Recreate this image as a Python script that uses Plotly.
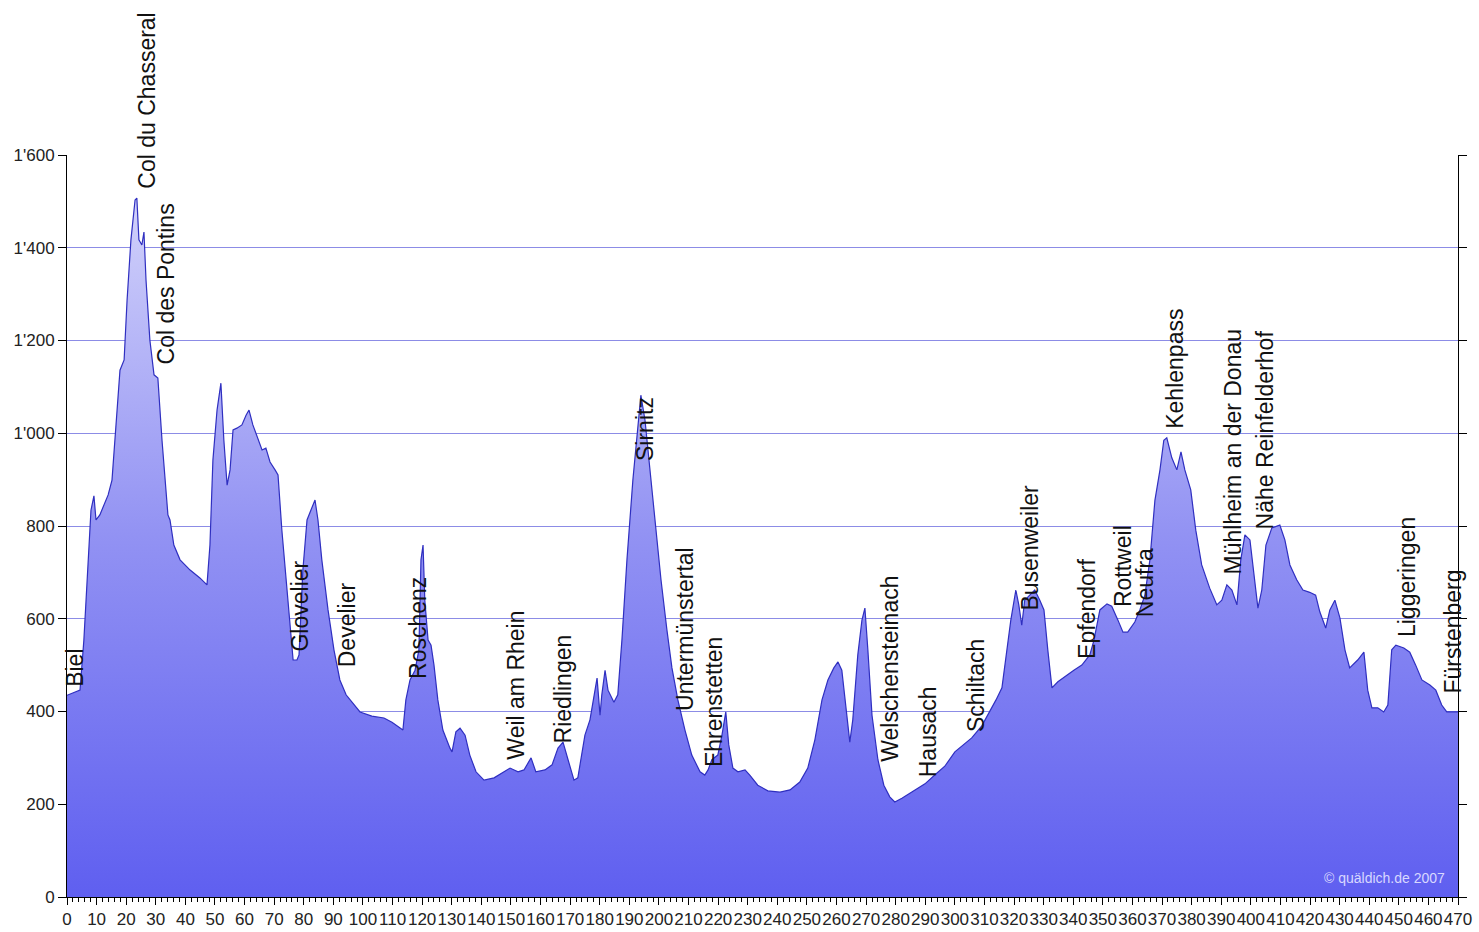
import plotly.graph_objects as go

# Elevation profile (km, m)
km = [0.0, 4.4, 5.7, 6.8, 8.1, 9.1, 9.8, 11.1, 13.9, 15.2, 16.6, 17.9, 19.3, 20.3, 21.6, 23.0, 23.6, 24.3,
      25.3, 26.0, 26.7, 28.0, 29.4, 30.7, 32.1, 34.1, 34.8, 36.1, 38.2, 41.6, 44.9, 47.3, 48.3, 49.3,
      50.7, 52.0, 53.0, 54.1, 55.1, 56.1, 57.4, 59.1, 60.5, 61.5, 62.8, 64.5, 65.9, 67.2, 68.6, 70.3,
      71.3, 72.6, 74.0, 75.3, 76.4, 77.7, 78.4, 79.7, 81.1, 82.4, 83.8, 84.8, 86.1, 88.2, 90.2, 92.2,
      94.3, 96.3, 99.0, 103.0, 107.1, 109.8, 112.5, 113.5, 114.5, 115.9, 117.6, 118.9, 119.6, 120.3,
      120.9, 122.0, 123.0, 124.0, 125.3, 127.0, 129.4, 130.1, 131.4, 132.8, 134.5, 136.1, 138.2, 140.9,
      144.3, 147.6, 149.7, 152.4, 154.4, 156.8, 158.4, 161.5, 163.9, 165.9, 167.6, 169.3, 171.3, 172.6,
      175.0, 176.7, 178.0, 179.1, 180.1, 180.7, 181.8, 182.8, 184.8, 186.1, 187.5, 189.2, 191.2, 192.9,
      193.9, 195.3, 197.0, 199.0, 200.7, 202.7, 204.4, 206.4, 208.8, 211.1, 213.9, 215.5, 216.6, 217.9,
      219.9, 221.3, 222.6, 223.6, 225.0, 226.7, 229.1, 230.7, 233.4, 236.8, 240.9, 244.3, 247.6, 250.3,
      252.7, 255.1, 257.1, 259.1, 260.5, 261.8, 263.2, 264.5, 265.5, 267.2, 268.6, 269.6, 270.6, 272.0,
      274.0, 276.0, 278.0, 279.7, 282.1, 285.5, 289.9, 293.2, 296.6, 300.0, 302.7, 305.7, 309.1, 311.8,
      313.9, 315.9, 317.2, 318.9, 320.6, 321.6, 322.6, 323.6, 325.3, 327.0, 328.7, 330.1, 331.4, 332.8,
      334.8, 337.5, 340.2, 342.9, 345.6, 347.0, 349.0, 351.4, 353.0, 355.1, 356.8, 358.4, 360.8, 362.5,
      364.2, 365.9, 367.6, 369.3, 370.6, 371.6, 373.3, 375.0, 376.4, 377.7, 379.7, 381.4, 383.4, 386.1,
      388.5, 390.2, 391.9, 393.6, 395.3, 396.6, 398.0, 399.7, 401.0, 402.4, 403.7, 405.1, 407.1, 409.8,
      411.5, 413.2, 415.5, 417.6, 419.9, 421.9, 423.3, 425.3, 426.7, 428.4, 430.1, 431.8, 433.4, 436.1,
      438.2, 439.5, 440.9, 442.9, 444.9, 446.3, 447.6, 449.0, 451.7, 453.7, 455.7, 457.8, 460.5, 462.5,
      464.5, 466.2, 470.0]
elev = [435, 446, 554, 694, 834, 865, 813, 824, 867, 899, 1028, 1136, 1158, 1287, 1417, 1503, 1507, 1417,
        1406, 1434, 1330, 1201, 1126, 1119, 985, 824, 813, 759, 727, 705, 688, 673, 759, 942,
        1050, 1108, 985, 888, 921, 1007, 1011, 1018, 1039, 1050, 1018, 990, 964, 968, 938, 921,
        910, 791, 684, 576, 511, 511, 522, 705, 813, 834, 856, 813, 727, 619, 533, 468,
        436, 420, 399, 390, 386, 377, 364, 360, 425, 468, 489, 533, 727, 759,
        640, 554, 543, 500, 425, 360, 321, 313, 356, 364, 349, 306, 270, 252,
        257, 270, 278, 270, 274, 300, 270, 274, 285, 321, 334, 296, 252, 257,
        349, 382, 436, 472, 392, 436, 489, 446, 420, 436, 554, 727, 899, 1007,
        1082, 1028, 921, 791, 684, 576, 494, 425, 360, 306, 270, 263, 274, 296,
        306, 349, 399, 328, 278, 270, 274, 263, 241, 229, 226, 231, 248, 278,
        339, 425, 468, 494, 507, 489, 414, 334, 382, 522, 597, 623, 533, 392,
        296, 241, 216, 205, 213, 226, 244, 263, 282, 313, 328, 343, 369, 399,
        425, 451, 511, 597, 662, 630, 586, 640, 651, 662, 640, 619, 533, 451,
        464, 477, 489, 500, 522, 554, 619, 632, 627, 597, 571, 571, 593, 619,
        651, 727, 856, 921, 985, 990, 947, 921, 960, 921, 878, 791, 716, 666,
        630, 640, 673, 662, 630, 727, 781, 770, 705, 623, 662, 759, 796, 802,
        770, 716, 684, 662, 657, 651, 615, 580, 619, 640, 602, 533, 494, 511,
        528, 446, 408, 408, 399, 414, 533, 543, 537, 528, 500, 468, 457, 446,
        414, 399, 399]

# Place labels: name, km position, elevation at label base
place_names = ["Biel", "Col du Chasseral", "Col des Pontins", "Glovelier", "Develier", "Roschenz",
               "Weil am Rhein", "Riedlingen", "Sirnitz", "Untermünstertal", "Ehrenstetten",
               "Welschensteinach", "Hausach", "Schiltach", "Busenweiler", "Epfendorf", "Rottweil",
               "Neufra", "Kehlenpass", "Mühlheim an der Donau", "Nähe Reinfelderhof",
               "Liggeringen", "Fürstenberg"]
place_km = [2.7, 27.0, 33.4, 78.7, 94.9, 118.6, 151.7, 167.6, 195.3, 208.8, 218.6, 278.0, 290.9,
            307.4, 325.3, 344.6, 356.8, 364.2, 374.3, 393.9, 404.7, 452.7, 468.2]
place_base = [451, 1525, 1147, 528, 494, 468, 295, 328, 938, 399, 278, 289, 257, 354, 615, 511,
              623, 602, 1007, 694, 791, 558, 436]

y_tickvals = [0, 200, 400, 600, 800, 1000, 1200, 1400, 1600]
y_ticktext = ["0", "200", "400", "600", "800", "1'000", "1'200", "1'400", "1'600"]
x_tickvals = list(range(0, 471, 10))

fig = go.Figure()
fig.add_trace(go.Scatter(
    x=km, y=elev, mode="lines", fill="tozeroy",
    line=dict(color="#2f2fc0", width=1.2),
    fillgradient=dict(type="vertical", start=0, stop=1560,
                      colorscale=[[0, "#5f5ff0"], [0.5, "#9292f3"], [1, "#d6d6fb"]]),
    hoverinfo="skip", showlegend=False))

for name, xk, yb in zip(place_names, place_km, place_base):
    fig.add_annotation(x=xk, y=yb, text=name, textangle=-90, showarrow=False,
                       xanchor="center", yanchor="bottom", borderpad=0,
                       font=dict(family="Liberation Sans, Arial", size=23, color="#111111"))

fig.add_annotation(xref="paper", yref="paper", x=0.992, y=0.026, text="© quäldich.de 2007",
                   showarrow=False, xanchor="right", yanchor="middle",
                   font=dict(family="Liberation Sans, Arial", size=14, color="#d8d8ff"))

fig.update_xaxes(range=[0, 470], tickmode="array", tickvals=x_tickvals,
                 ticktext=[str(v) for v in x_tickvals], tickangle=0, automargin=False,
                 showgrid=False, zeroline=False, showline=True, linecolor="#000000", linewidth=1,
                 ticks="outside", ticklen=7, tickcolor="#000000",
                 minor=dict(dtick=2, ticks="outside", ticklen=4, tickcolor="#000000"),
                 tickfont=dict(family="Liberation Sans, Arial", size=17, color="#222222"))
fig.update_yaxes(range=[0, 1600], tickmode="array", tickvals=y_tickvals, ticktext=y_ticktext,
                 automargin=False,
                 showgrid=True, gridcolor="#8c8ce6", gridwidth=1, zeroline=False,
                 showline=True, linecolor="#000000", linewidth=1, mirror="ticks",
                 ticks="outside", ticklen=8, tickcolor="#000000",
                 tickfont=dict(family="Liberation Sans, Arial", size=17, color="#222222"))

fig.update_layout(width=1479, height=932, margin=dict(l=67, r=21, t=155, b=35),
                  paper_bgcolor="#ffffff", plot_bgcolor="#ffffff")

fig.write_html("out.html", config={"displayModeBar": False},
               post_script="document.body.style.margin='0';document.body.style.overflow='hidden';")
